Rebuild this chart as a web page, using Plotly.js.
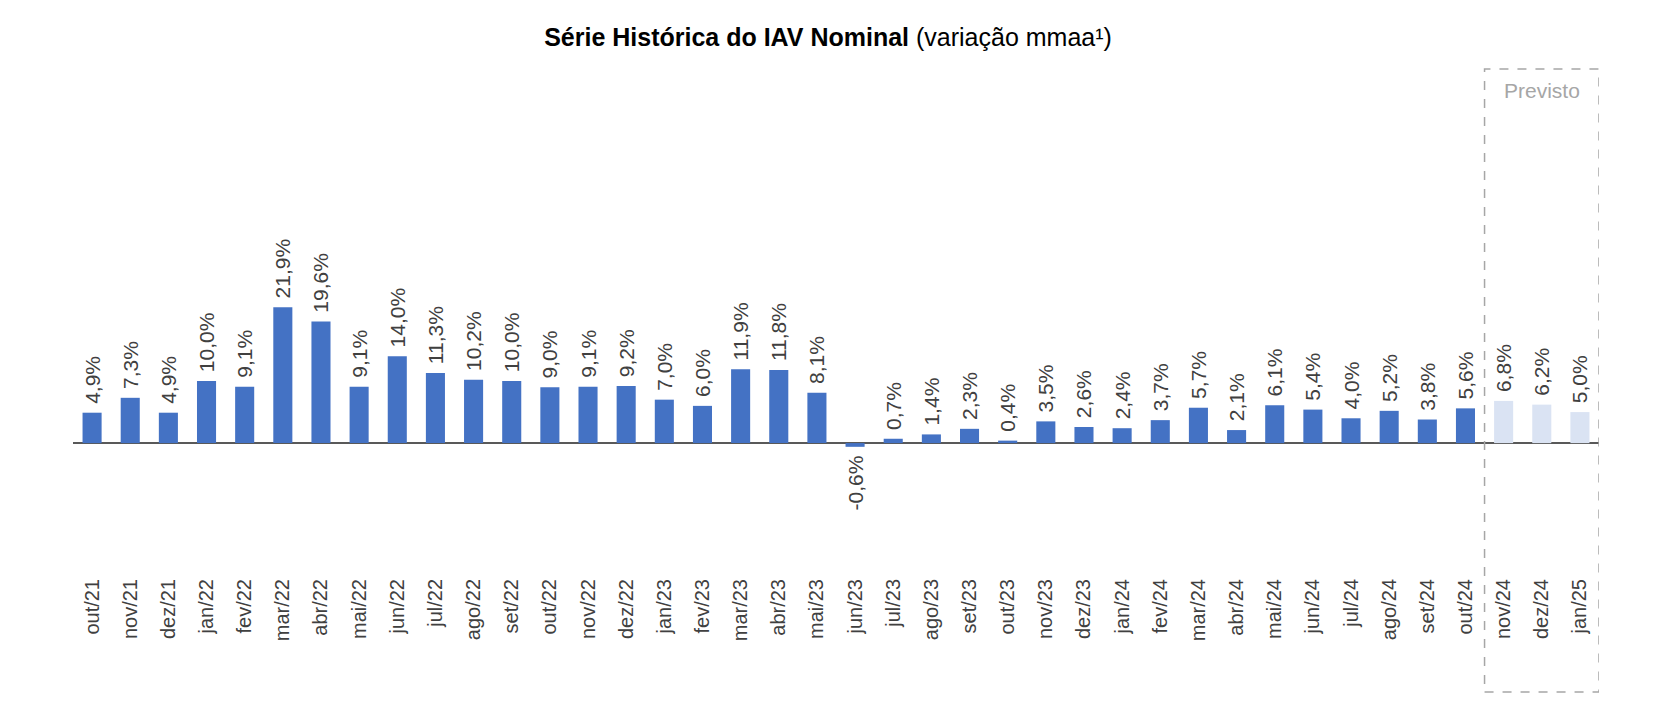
<!DOCTYPE html>
<html>
<head>
<meta charset="utf-8">
<script src="https://cdn.plot.ly/plotly-3.0.1.min.js"></script>
<style>
  html,body{margin:0;padding:0;background:#fff;}
  #chart{width:1656px;height:722px;}
</style>
</head>
<body>
<div id="chart"></div>
<script>
// ===== data =====
const months = ['out/21','nov/21','dez/21',
  'jan/22','fev/22','mar/22','abr/22','mai/22','jun/22','jul/22','ago/22','set/22','out/22','nov/22','dez/22',
  'jan/23','fev/23','mar/23','abr/23','mai/23','jun/23','jul/23','ago/23','set/23','out/23','nov/23','dez/23',
  'jan/24','fev/24','mar/24','abr/24','mai/24','jun/24','jul/24','ago/24','set/24','out/24',
  'nov/24','dez/24','jan/25'];
const iavValues = [4.9,7.3,4.9,
  10.0,9.1,21.9,19.6,9.1,14.0,11.3,10.2,10.0,9.0,9.1,9.2,
  7.0,6.0,11.9,11.8,8.1,-0.6,0.7,1.4,2.3,0.4,3.5,2.6,
  2.4,3.7,5.7,2.1,6.1,5.4,4.0,5.2,3.8,5.6,
  6.8,6.2,5.0];
const forecastMonths = ['nov/24','dez/24','jan/25'];

// ===== helpers =====
const NB = '\u00a0';
function pct(v){ return v.toFixed(1).replace('.', ',') + '%'; }
// small gap between bar end and its label (text is rotated, so the pad goes on the bar side)
function label(v){ return v < 0 ? pct(v) + NB : NB + pct(v); }

const FONT = 'Arial, "Liberation Sans", Helvetica, sans-serif';
const BLUE = '#4472C4', LIGHT = '#DAE3F3', TXT = '#404040';

const colors = months.map(m => forecastMonths.includes(m) ? LIGHT : BLUE);

const trace = {
  type:'bar', x: months, y: iavValues,
  text: iavValues.map(label),
  textposition:'outside', textangle:-90, constraintext:'none', cliponaxis:false,
  textfont:{family:FONT, size:21, color:TXT},
  marker:{color:colors},
  width:0.5,
  hoverinfo:'x+text'
};

const layout = {
  width:1656, height:722,
  paper_bgcolor:'#fff', plot_bgcolor:'#fff',
  margin:{l:73, r:57, t:69, b:148},
  showlegend:false,
  title:{
    text:'<b>Série Histórica do IAV Nominal</b> (variação mmaa¹)',
    font:{family:FONT, size:25, color:'#000'},
    x:0.5, xanchor:'center', y:1-37/722, yanchor:'middle', yref:'container'
  },
  xaxis:{
    type:'category', tickangle:-90, ticks:'', showline:false, showgrid:false,
    tickfont:{family:FONT, size:20, color:TXT}, range:[-0.5, months.length-0.5]
  },
  yaxis:{
    range:[-21.1, 60.3], showgrid:false, showticklabels:false, ticks:'',
    zeroline:true, zerolinecolor:'#595959', zerolinewidth:1.5, showline:false
  },
  shapes:[{
    type:'rect', xref:'x', yref:'paper',
    x0: months.indexOf(forecastMonths[0]) - 0.5, x1: months.length - 0.5,
    y0: (574-692)/505, y1: 1,
    line:{color:'#a6a6a6', width:1.5, dash:'dash'}
  }],
  annotations:[{
    text:'Previsto', xref:'x', yref:'paper', x: forecastMonths[1], y:(574-90)/505,
    showarrow:false, xanchor:'center', yanchor:'middle',
    font:{family:FONT, size:21, color:'#a6a6a6'}
  }]
};

Plotly.newPlot('chart', [trace], layout, {displayModeBar:false, staticPlot:true});
</script>
</body>
</html>
